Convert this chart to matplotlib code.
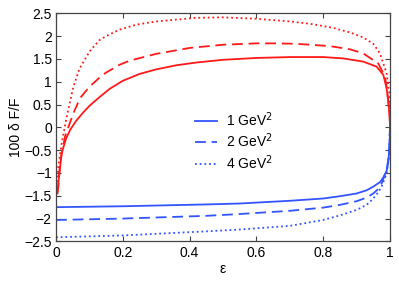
import numpy as np
import matplotlib
matplotlib.use('Agg')
import matplotlib.pyplot as plt

# --- data ---
labels = ['1 GeV$^2$', '2 GeV$^2$', '4 GeV$^2$']

# red curves (upper)
red1_eps = [0.004, 0.007, 0.017, 0.03, 0.042, 0.06, 0.082, 0.10, 0.13, 0.16, 0.20, 0.25, 0.30, 0.36, 0.42, 0.50,
            0.60, 0.70, 0.80, 0.86, 0.92, 0.96, 0.98, 0.99, 0.995, 0.999, 1.0]
red1_val = [-1.45, -1.22, -0.56, -0.25, -0.06, 0.14, 0.33, 0.47, 0.66, 0.84, 1.02, 1.17, 1.27, 1.36, 1.42, 1.48,
            1.52, 1.54, 1.54, 1.51, 1.44, 1.33, 1.15, 0.85, 0.55, 0.25, 0.0]

red2_eps = [0.004, 0.007, 0.012, 0.027, 0.052, 0.072, 0.10, 0.135, 0.15, 0.19, 0.22, 0.30, 0.40, 0.50, 0.60, 0.66,
            0.72, 0.82, 0.88, 0.92, 0.965, 0.985, 0.99, 0.995, 0.999, 1.0]
red2_val = [-1.45, -1.3, -0.78, -0.2, 0.31, 0.64, 0.89, 1.12, 1.2, 1.37, 1.46, 1.61, 1.74, 1.81, 1.84, 1.84,
            1.83, 1.78, 1.71, 1.62, 1.40, 1.11, 0.88, 0.58, 0.27, 0.0]

red4_eps = [0.004, 0.007, 0.017, 0.032, 0.052, 0.07, 0.10, 0.13, 0.15, 0.19, 0.24, 0.30, 0.42, 0.50, 0.60, 0.70,
            0.76, 0.83, 0.88, 0.92, 0.95, 0.97, 0.99, 0.998, 1.0]
red4_val = [-1.2, -0.86, -0.35, 0.23, 0.89, 1.28, 1.66, 1.91, 2.0, 2.14, 2.25, 2.32, 2.40, 2.41, 2.38, 2.32,
            2.27, 2.18, 2.08, 1.97, 1.83, 1.62, 1.18, 0.75, 0.0]

# blue curves (lower)
blue1_eps = [0.0, 0.2, 0.45, 0.55, 0.70, 0.80, 0.85, 0.90, 0.93, 0.95, 0.97, 0.98, 0.99, 0.995, 0.999, 1.0]
blue1_val = [-1.75, -1.73, -1.69, -1.67, -1.61, -1.56, -1.51, -1.45, -1.38, -1.30, -1.20, -1.10, -0.95, -0.75,
             -0.4, 0.0]

blue2_eps = [0.0, 0.2, 0.45, 0.55, 0.70, 0.80, 0.85, 0.90, 0.93, 0.95, 0.965, 0.975, 0.99, 0.997, 1.0]
blue2_val = [-2.03, -2.0, -1.94, -1.90, -1.83, -1.76, -1.70, -1.62, -1.54, -1.45, -1.35, -1.23, -0.94, -0.6, 0.0]

blue4_eps = [0.0, 0.2, 0.45, 0.55, 0.70, 0.80, 0.85, 0.90, 0.93, 0.95, 0.965, 0.975, 0.99, 0.997, 1.0]
blue4_val = [-2.41, -2.37, -2.28, -2.24, -2.16, -2.03, -1.93, -1.81, -1.70, -1.56, -1.42, -1.30, -1.01, -0.65, 0.0]

xticks = [0, 0.2, 0.4, 0.6, 0.8, 1]
xticklabels = ['0', '0.2', '0.4', '0.6', '0.8', '1']
yticks = [-2.5, -2, -1.5, -1, -0.5, 0, 0.5, 1, 1.5, 2, 2.5]
yticklabels = ['\u22122.5', '\u22122', '\u22121.5', '\u22121', '\u22120.5', '0', '0.5', '1', '1.5', '2', '2.5']

# --- styling ---
plt.rcParams['font.family'] = ['Liberation Sans', 'DejaVu Sans']
plt.rcParams['font.size'] = 10

RED = '#ff1a1a'
BLUE = '#3355ff'
LW = 1.3
styles = ['-', (0, (6, 3.2)), (0, (1, 1.6))]

fig = plt.figure(figsize=(3.99, 2.82), dpi=100)
ax = fig.add_axes([0.1404, 0.144, 0.8370, 0.809])

blue_sets = [(blue1_eps, blue1_val), (blue2_eps, blue2_val), (blue4_eps, blue4_val)]
red_sets = [(red1_eps, red1_val), (red2_eps, red2_val), (red4_eps, red4_val)]

for (e, v), ls, lab in zip(blue_sets, styles, labels):
    ax.plot(e, v, color=BLUE, linestyle=ls, linewidth=LW, label=lab)
for (e, v), ls in zip(red_sets, styles):
    ax.plot(e, v, color=RED, linestyle=ls, linewidth=LW)

ax.set_xlim(0, 1)
ax.set_ylim(-2.5, 2.5)
ax.set_xticks(xticks)
ax.set_xticklabels(xticklabels)
ax.set_yticks(yticks)
ax.set_yticklabels(yticklabels)
ax.tick_params(direction='in', length=3.5, width=0.8, color='#444444', top=True, right=True, labelsize=10, pad=3)
for s in ax.spines.values():
    s.set_color('#444444')
    s.set_linewidth(0.9)

ax.set_xlabel('\u03b5', labelpad=2)
ax.set_ylabel('100 \u03b4 F/F', labelpad=1)

leg = ax.legend(loc='upper left', bbox_to_anchor=(0.40, 0.60), frameon=False, handlelength=1.6,
                handletextpad=0.6, labelspacing=0.22, borderaxespad=0, fontsize=10)

fig.savefig('out.png', dpi=100)
